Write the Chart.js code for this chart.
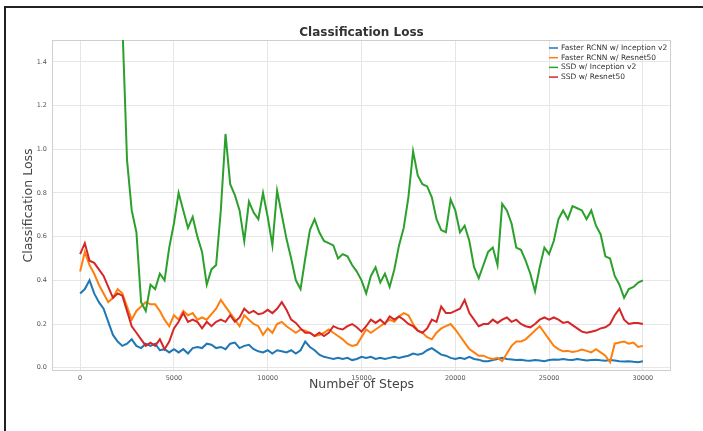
<!DOCTYPE html>
<html>
<head>
<meta charset="utf-8">
<script src="https://cdn.jsdelivr.net/npm/chart.js@4.4.1/dist/chart.umd.min.js"></script>
<style>
  html, body { margin: 0; padding: 0; background: #fff; }
  #wrap { position: relative; width: 703px; height: 431px; overflow: hidden; }
  #frame { position: absolute; left: 4px; top: 6px; right: -10px; bottom: -10px;
           border-top: 2px solid #222; border-left: 2px solid #222; pointer-events: none; }
</style>
</head>
<body>
<div id="wrap">
  <canvas id="myChart" width="703" height="431"></canvas>
  <div id="frame"></div>
</div>
<script>
// training steps (x) and y ticks
const steps = [
  0, 250, 500, 750, 1000, 1250, 1500, 1750, 2000, 2250,
  2500, 2750, 3000, 3250, 3500, 3750, 4000, 4250, 4500, 4750,
  5000, 5250, 5500, 5750, 6000, 6250, 6500, 6750, 7000, 7250,
  7500, 7750, 8000, 8250, 8500, 8750, 9000, 9250, 9500, 9750,
  10000, 10250, 10500, 10750, 11000, 11250, 11500, 11750, 12000, 12250,
  12500, 12750, 13000, 13250, 13500, 13750, 14000, 14250, 14500, 14750,
  15000, 15250, 15500, 15750, 16000, 16250, 16500, 16750, 17000, 17250,
  17500, 17750, 18000, 18250, 18500, 18750, 19000, 19250, 19500, 19750,
  20000, 20250, 20500, 20750, 21000, 21250, 21500, 21750, 22000, 22250,
  22500, 22750, 23000, 23250, 23500, 23750, 24000, 24250, 24500, 24750,
  25000, 25250, 25500, 25750, 26000, 26250, 26500, 26750, 27000, 27250,
  27500, 27750, 28000, 28250, 28500, 28750, 29000, 29250, 29500, 29750,
  30000
];
const xTicks = [0, 5000, 10000, 15000, 20000, 25000, 30000];
const yTicks = [0.0, 0.2, 0.4, 0.6, 0.8, 1.0, 1.2, 1.4];

const seriesNames = [
  'Faster RCNN w/ Inception v2',
  'Faster RCNN w/ Resnet50',
  'SSD w/ Inception v2',
  'SSD w/ Resnet50'
];
const seriesColors = ['#1f77b4', '#ff7f0e', '#2ca02c', '#d62728'];

const frcnnInception = [
  0.34, 0.36, 0.40, 0.34, 0.30, 0.27, 0.21, 0.15, 0.12, 0.10,
  0.11, 0.13, 0.10, 0.09, 0.11, 0.10, 0.11, 0.08, 0.085, 0.07,
  0.085, 0.07, 0.085, 0.065, 0.09, 0.095, 0.09, 0.11, 0.105, 0.09,
  0.095, 0.085, 0.11, 0.115, 0.09, 0.10, 0.105, 0.085, 0.075, 0.07,
  0.08, 0.065, 0.08, 0.075, 0.07, 0.08, 0.065, 0.08, 0.12, 0.095,
  0.08, 0.06, 0.05, 0.045, 0.04, 0.045, 0.04, 0.045, 0.035, 0.04,
  0.05, 0.045, 0.05, 0.04, 0.045, 0.04, 0.045, 0.05, 0.045, 0.05,
  0.055, 0.065, 0.06, 0.065, 0.08, 0.09, 0.075, 0.06, 0.055, 0.045,
  0.04, 0.045, 0.04, 0.05, 0.04, 0.037, 0.03, 0.03, 0.035, 0.04,
  0.045, 0.04, 0.038, 0.035, 0.036, 0.033, 0.032, 0.035, 0.033, 0.03,
  0.035, 0.038, 0.036, 0.04, 0.037, 0.035, 0.04, 0.036, 0.033, 0.035,
  0.037, 0.034, 0.032, 0.035, 0.033, 0.03, 0.028, 0.03, 0.027, 0.025,
  0.03
];
const frcnnResnet = [
  0.44, 0.53, 0.47, 0.43, 0.38, 0.34, 0.30, 0.32, 0.36, 0.34,
  0.28, 0.22, 0.26, 0.28, 0.30, 0.29, 0.29, 0.26, 0.22, 0.19,
  0.24, 0.22, 0.26, 0.24, 0.25, 0.22, 0.23, 0.22, 0.245, 0.27,
  0.31, 0.28, 0.25, 0.22, 0.19, 0.24, 0.22, 0.20, 0.19, 0.15,
  0.18, 0.16, 0.20, 0.21, 0.19, 0.175, 0.16, 0.175, 0.17, 0.16,
  0.145, 0.15, 0.16, 0.175, 0.16, 0.145, 0.13, 0.11, 0.10, 0.105,
  0.14, 0.175, 0.16, 0.175, 0.19, 0.205, 0.22, 0.21, 0.235, 0.25,
  0.24, 0.20, 0.17, 0.16, 0.14, 0.13, 0.16, 0.18, 0.19, 0.20,
  0.175, 0.145, 0.115, 0.085, 0.07, 0.055, 0.055, 0.045, 0.04, 0.045,
  0.03, 0.065, 0.10, 0.12, 0.12, 0.13, 0.15, 0.17, 0.19, 0.16,
  0.13, 0.10, 0.085, 0.075, 0.077, 0.072, 0.076, 0.083, 0.077, 0.07,
  0.085, 0.07, 0.055, 0.025, 0.11, 0.115, 0.12, 0.11, 0.115, 0.095,
  0.10
];
const ssdInception = [
  null, null, null, null, null, null, null, null, null, 1.58,
  0.95, 0.72, 0.62, 0.30, 0.26, 0.38, 0.36, 0.43, 0.40, 0.55,
  0.66, 0.80, 0.72, 0.64, 0.69, 0.60, 0.53, 0.38, 0.45, 0.47,
  0.72, 1.07, 0.84, 0.79, 0.72, 0.58, 0.76, 0.71, 0.68, 0.80,
  0.69, 0.56, 0.81, 0.70, 0.59, 0.50, 0.40, 0.36, 0.50, 0.63,
  0.68, 0.62, 0.58, 0.57, 0.56, 0.50, 0.52, 0.51, 0.47, 0.44,
  0.40, 0.34, 0.42, 0.46, 0.39, 0.43, 0.37, 0.45, 0.56, 0.64,
  0.78, 0.99, 0.88, 0.84, 0.83, 0.78, 0.68, 0.63, 0.62, 0.77,
  0.72, 0.62, 0.65, 0.58, 0.46, 0.41, 0.47, 0.53, 0.55, 0.47,
  0.75, 0.72, 0.66, 0.55, 0.54, 0.49, 0.43, 0.35, 0.46, 0.55,
  0.52, 0.58, 0.68, 0.72, 0.68, 0.74, 0.73, 0.72, 0.68, 0.72,
  0.65, 0.61, 0.51, 0.50, 0.42, 0.38, 0.32, 0.36, 0.37, 0.39,
  0.40
];
const ssdResnet = [
  0.52, 0.57, 0.49, 0.48, 0.45, 0.42, 0.37, 0.32, 0.34, 0.33,
  0.26, 0.19, 0.16, 0.13, 0.10, 0.115, 0.10, 0.13, 0.085, 0.12,
  0.18, 0.21, 0.25, 0.21, 0.22, 0.21, 0.18, 0.21, 0.19, 0.21,
  0.22, 0.21, 0.24, 0.21, 0.23, 0.27, 0.25, 0.26, 0.245, 0.25,
  0.265, 0.25, 0.27, 0.30, 0.265, 0.22, 0.205, 0.18, 0.16, 0.16,
  0.145, 0.16, 0.145, 0.16, 0.19, 0.18, 0.175, 0.19, 0.20, 0.185,
  0.165, 0.19, 0.22, 0.205, 0.22, 0.20, 0.235, 0.22, 0.235, 0.22,
  0.20, 0.19, 0.17, 0.16, 0.18, 0.22, 0.21, 0.28, 0.25, 0.25,
  0.26, 0.27, 0.31, 0.25, 0.22, 0.19, 0.20, 0.20, 0.22, 0.205,
  0.22, 0.23, 0.21, 0.22, 0.20, 0.19, 0.185, 0.20, 0.22, 0.23,
  0.22, 0.23, 0.22, 0.205, 0.21, 0.195, 0.18, 0.165, 0.16, 0.165,
  0.17, 0.18, 0.185, 0.20, 0.24, 0.27, 0.22, 0.20, 0.205, 0.205,
  0.20
];

const allSeries = [frcnnInception, frcnnResnet, ssdInception, ssdResnet];
const FONT = '"DejaVu Sans", sans-serif';

// title, frame and the legend drawn inside the plot
const extrasPlugin = {
  id: 'extras',
  beforeDatasetsDraw(chart) {
    const {ctx, chartArea: a} = chart;
    ctx.save();
    ctx.strokeStyle = '#cfcfcf';
    ctx.lineWidth = 1;
    ctx.strokeRect(a.left + 0.5, a.top + 0.5, a.right - a.left - 1, a.bottom - a.top - 1);
    ctx.restore();
  },
  afterDraw(chart) {
    const {ctx, chartArea: a} = chart;
    ctx.save();
    ctx.fillStyle = '#333';
    ctx.font = 'bold 12px ' + FONT;
    ctx.textAlign = 'center';
    ctx.textBaseline = 'middle';
    ctx.fillText('Classification Loss', (a.left + a.right) / 2, 33);

    ctx.font = '7.5px ' + FONT;
    ctx.textAlign = 'left';
    chart.data.datasets.forEach((ds, i) => {
      const y = 48 + i * 9.7;
      ctx.strokeStyle = ds.borderColor;
      ctx.lineWidth = 1.5;
      ctx.beginPath();
      ctx.moveTo(549, y);
      ctx.lineTo(558, y);
      ctx.stroke();
      ctx.fillStyle = '#333';
      ctx.fillText(ds.label, 561, y);
    });
    ctx.restore();
  }
};

const ctx = document.getElementById('myChart');
const myChart = new Chart(ctx, {
  type: 'line',
  data: {
    datasets: allSeries.map((vals, i) => ({
      label: seriesNames[i],
      data: steps.map((s, j) => ({x: s, y: vals[j]})),
      borderColor: seriesColors[i],
      backgroundColor: seriesColors[i],
      borderWidth: 2,
      pointRadius: 0,
      tension: 0,
      clip: 0,
      order: 4 - i
    }))
  },
  options: {
    responsive: false,
    animation: false,
    devicePixelRatio: 1,
    layout: { padding: { left: 0, right: 32, top: 40, bottom: 0 } },
    plugins: {
      legend: { display: false },
      title: { display: false },
      tooltip: { enabled: false }
    },
    scales: {
      x: {
        type: 'linear',
        min: -1500,
        max: 31500,
        afterBuildTicks: s => { s.ticks = xTicks.map(v => ({value: v})); },
        afterFit: s => { s.height = 60; },
        grid: { color: '#e6e6e6', drawTicks: false },
        border: { display: false },
        ticks: {
          padding: 3,
          color: '#555',
          font: { family: FONT, size: 6.5 },
          maxRotation: 0,
          callback: v => String(v)
        },
        title: {
          display: true,
          text: 'Number of Steps',
          color: '#444',
          font: { family: FONT, size: 12.5 },
          padding: { top: 0, bottom: 39 }
        }
      },
      y: {
        min: -0.015,
        max: 1.5,
        afterBuildTicks: s => { s.ticks = yTicks.map(v => ({value: v})); },
        afterFit: s => { s.width = 52; },
        grid: { color: '#e6e6e6', drawTicks: false },
        border: { display: false },
        ticks: {
          padding: 5,
          color: '#555',
          font: { family: FONT, size: 6.5 },
          callback: v => v.toFixed(1)
        },
        title: {
          display: true,
          text: 'Classification Loss',
          color: '#444',
          font: { family: FONT, size: 12.5 },
          padding: { top: 21, bottom: 0 }
        }
      }
    }
  },
  plugins: [extrasPlugin]
});
</script>
</body>
</html>
